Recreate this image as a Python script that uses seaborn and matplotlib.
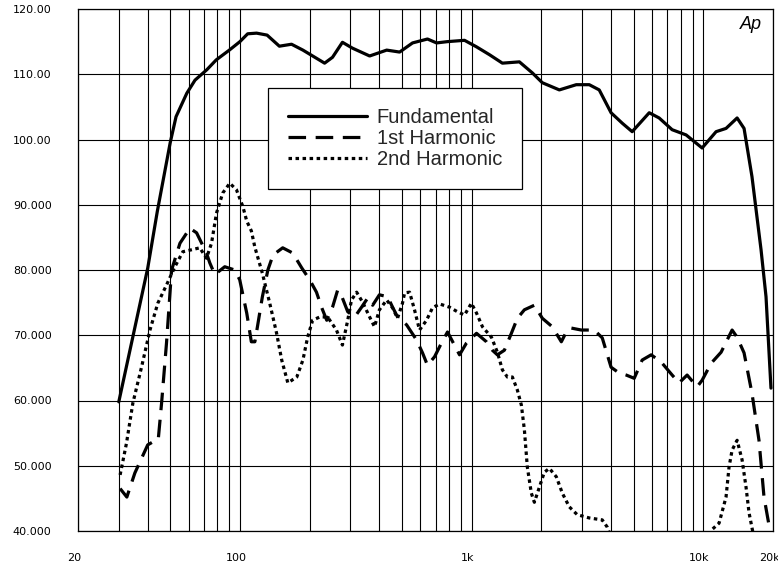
import numpy as np
import pandas as pd
import matplotlib
matplotlib.use("Agg")
import matplotlib.pyplot as plt
import matplotlib.ticker as mticker
import matplotlib.transforms as mtransforms
from matplotlib.lines import Line2D
import seaborn as sns

# ---------------- data ----------------
fund_freq = [30, 40, 44, 50, 53, 59, 64, 72, 79, 90, 100, 108, 118, 131, 148, 167, 187,
             232, 251, 277, 306, 363, 430, 489, 556, 645, 706, 787, 932, 1050, 1194,
             1358, 1608, 1830, 2020, 2392, 2830, 3220, 3556, 4000, 4470, 4934, 5845,
             6450, 7340, 8434, 9886, 11360, 12540, 14000, 15000, 16230, 17760, 18660, 19600]
fund_db = [59.8, 80.3, 89.0, 99.5, 103.5, 107.1, 109.1, 110.7, 112.2, 113.7, 115.0, 116.2,
           116.3, 116.0, 114.3, 114.6, 113.7, 111.7, 112.6, 114.9, 114.0, 112.8, 113.7,
           113.4, 114.8, 115.4, 114.8, 115.0, 115.2, 114.2, 113.0, 111.7, 111.9, 110.2,
           108.7, 107.6, 108.4, 108.4, 107.6, 104.1, 102.5, 101.2, 104.1, 103.3, 101.5,
           100.7, 98.7, 101.2, 101.7, 103.3, 101.7, 94.3, 83.1, 75.9, 61.9]

h1_freq = [30.4, 32.5, 35.2, 40, 43.8, 44.4, 45.9, 48.2, 50.7, 55.1, 60.8, 65, 71.7, 74.1,
           77.9, 86, 95, 99.8, 107, 112, 116, 119, 125, 132, 139, 153, 169, 185, 200, 214,
           225, 237, 251, 264, 277, 292, 313, 335, 356, 374, 400, 434, 456, 479, 524, 578,
           614, 645, 692, 741, 787, 843, 887, 950, 1050, 1159, 1230, 1292, 1385, 1485,
           1576, 1690, 1866, 2020, 2230, 2440, 2588, 2694, 2975, 3383, 3664, 4000, 4338,
           4650, 5034, 5449, 5958, 6580, 7340, 7866, 8518, 9407, 9886, 10810, 11940,
           13320, 14000, 15000, 16230, 17400, 18290, 19220, 19600]
h1_db = [46.5, 45.2, 48.9, 53.2, 54.0, 54.0, 59.6, 68.8, 80.0, 84.1, 86.4, 85.7, 82.6, 81.1,
         79.3, 80.5, 80.0, 78.5, 73.4, 69.0, 69.0, 71.3, 75.9, 80.0, 82.3, 83.4, 82.6, 80.3,
         78.5, 76.6, 74.3, 72.3, 74.3, 76.9, 75.7, 73.6, 72.8, 74.3, 75.7, 74.6, 76.2, 75.9,
         74.3, 72.8, 71.6, 69.3, 67.3, 65.4, 66.7, 68.8, 70.5, 68.5, 67.0, 68.8, 70.3, 69.0,
         67.7, 67.0, 67.7, 70.3, 72.6, 73.9, 74.6, 72.6, 71.3, 69.0, 70.8, 71.1, 70.8, 70.8,
         69.6, 65.1, 64.2, 63.9, 63.4, 66.2, 67.0, 65.9, 63.9, 62.7, 63.9, 62.1, 63.1, 65.7,
         67.4, 70.8, 69.7, 67.3, 61.1, 53.9, 45.2, 40.9, 40.6]

h2_freq = [30.4, 32.4, 34.5, 37.6, 40.9, 44.2, 48.2, 52.4, 56.7, 61.8, 67.1, 71.7, 75.4,
           79.2, 84.3, 90.4, 96.6, 103, 107, 112, 116, 125, 134.5, 144, 151.5, 161, 176,
           187, 196, 206, 221, 239, 261, 277, 292, 303, 319, 338, 363, 381, 400, 430, 456,
           479, 503, 514, 540, 567, 596, 639, 678, 727, 803, 869, 932, 998, 1050, 1114,
           1218, 1292, 1358, 1427, 1500, 1576, 1640, 1690, 1740, 1811, 1866, 1961, 2060,
           2166, 2322, 2464, 2641, 2858, 3220, 3664, 3850, 4100, 5000, 6500, 8500, 10000,
           10810, 11700, 12540, 12920, 13320, 14000, 14710, 15300, 15760, 16230, 17000,
           18000, 19600]
h2_db = [48.6, 53.5, 59.6, 65.1, 70.8, 74.9, 77.7, 80.5, 82.8, 83.1, 83.4, 81.8, 84.1, 88.7,
         91.8, 93.3, 92.3, 89.7, 87.5, 86.0, 83.5, 79.5, 74.9, 70.3, 66.2, 62.7, 63.6, 66.2,
         69.7, 72.3, 72.8, 72.8, 70.8, 68.5, 72.3, 75.4, 76.6, 75.1, 72.8, 71.3, 73.9, 75.4,
         74.2, 72.6, 74.9, 76.5, 76.6, 73.9, 70.8, 72.3, 74.2, 74.8, 74.3, 73.6, 73.1, 74.9,
         73.4, 71.3, 69.7, 67.4, 64.7, 63.6, 63.6, 61.6, 59.3, 55.5, 49.8, 45.8, 44.4, 46.7,
         49.0, 49.6, 48.3, 45.8, 43.7, 42.5, 42.0, 41.7, 40.6, 38.0, 35.0, 33.0, 34.0, 37.0,
         40.1, 41.2, 45.2, 49.8, 52.4, 53.9, 50.9, 46.7, 42.8, 40.5, 37.0, 34.0, 32.0]

series_names = ["Fundamental", "1st Harmonic", "2nd Harmonic"]
x_ticks = [20, 100, 1000, 10000, 20000]
x_tick_labels = ["20", "100", "1k", "10k", "20k"]
y_ticks = [40, 50, 60, 70, 80, 90, 100, 110, 120]
y_tick_labels = ["40.000", "50.000", "60.000", "70.000", "80.000", "90.000",
                 "100.00", "110.00", "120.00"]

df = pd.concat([
    pd.DataFrame({"freq": fund_freq, "level": fund_db, "series": series_names[0]}),
    pd.DataFrame({"freq": h1_freq, "level": h1_db, "series": series_names[1]}),
    pd.DataFrame({"freq": h2_freq, "level": h2_db, "series": series_names[2]}),
], ignore_index=True)

# ---------------- style ----------------
sns.set_style("white")
plt.rcParams["font.family"] = ["DejaVu Sans"]

W, H = 778, 569
fig = plt.figure(figsize=(W / 100, H / 100), dpi=100)
ax = fig.add_axes([78 / W, 38 / H, 695 / W, 522 / H])
ax.set_xscale("log")

LW = 2.3
dash_map = {"Fundamental": "", "1st Harmonic": (5.5, 3.0), "2nd Harmonic": (1.1, 1.1)}
sns.lineplot(data=df, x="freq", y="level", hue="series", style="series",
             hue_order=series_names, style_order=series_names,
             palette={n: "black" for n in series_names}, dashes=dash_map,
             linewidth=LW, estimator=None, legend=False, ax=ax)

ax.set_xlim(20, 20000)
ax.set_ylim(40, 120)
ax.set_xlabel("")
ax.set_ylabel("")

ax.xaxis.set_major_locator(mticker.FixedLocator(x_ticks))
ax.xaxis.set_major_formatter(mticker.FixedFormatter(x_tick_labels))
ax.xaxis.set_minor_locator(mticker.LogLocator(base=10, subs=np.arange(2, 10)))
ax.xaxis.set_minor_formatter(mticker.NullFormatter())
ax.yaxis.set_major_locator(mticker.FixedLocator(y_ticks))
ax.yaxis.set_major_formatter(mticker.FixedFormatter(y_tick_labels))

ax.grid(True, which="both", axis="x", color="black", linewidth=0.8)
ax.grid(True, which="major", axis="y", color="black", linewidth=0.8)
ax.set_axisbelow(True)
for sp in ax.spines.values():
    sp.set_color("black")
    sp.set_linewidth(0.9)

ax.tick_params(axis="both", which="both", length=0, labelsize=8, colors="black")
ax.tick_params(axis="x", pad=16)
ax.tick_params(axis="y", pad=19)
offset = mtransforms.ScaledTranslation(-4 / 100, 0, fig.dpi_scale_trans)
for lab in ax.get_xticklabels():
    lab.set_transform(lab.get_transform() + offset)

handles = [
    Line2D([], [], color="black", linewidth=LW, linestyle="-"),
    Line2D([], [], color="black", linewidth=LW, linestyle=(0, dash_map["1st Harmonic"])),
    Line2D([], [], color="black", linewidth=LW, linestyle=(0, dash_map["2nd Harmonic"])),
]
leg = ax.legend(handles, series_names, loc="upper left",
                bbox_to_anchor=(268 / W, 1 - 88 / H), bbox_transform=fig.transFigure,
                borderaxespad=0, frameon=True, fancybox=False, framealpha=1,
                edgecolor="black", handlelength=3.9, handletextpad=0.5,
                borderpad=1.0, labelspacing=0.1,
                prop={"family": ["Liberation Sans", "DejaVu Sans"], "size": 14.5})
leg.get_frame().set_linewidth(0.9)

fig.text(762 / W, 1 - 29 / H, "Ap", ha="right", va="baseline", fontsize=13,
         style="italic", family=["Liberation Sans", "DejaVu Sans"], color="black")

fig.savefig("out.png", dpi=100, facecolor="white")
